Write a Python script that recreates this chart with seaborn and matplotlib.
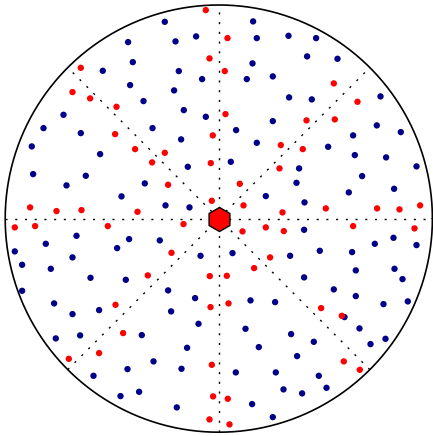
import numpy as np
import pandas as pd
import matplotlib
matplotlib.use("Agg")
import matplotlib.pyplot as plt
import seaborn as sns

# Projected pole positions (units: circle radius = 213.6)
blue_x = [-54, -90.7, -43.3, -22.7, -86, -116, -40, -16.7, -88.7, -44.7, -75.3, -35, -13,
          -155.3, -175.3, -66.3, -138, -187, -37.7, -118.7, -31, -185.7, -133, -152.3, -74,
          -97.3, -53.3, -29.3,
          34.3, 38, 69.7, 97.3, 33.7, 88.3, 118.7, 28, 54, 70.3, 93, 161.7, 54, 158, 17.3,
          182, 134.3, 38, 109.3, 136, 167.3, 12, 80.3, 197.7, 143.3, 77.7, 175.3, 47, 130, 85.7,
          -142.3, -173, -89.7, -59, -101.7, -204, -18.3, -146.3, -196.7, -168, -128.3, -93,
          -196.7, -50.7, -23.7, -164.7, -119.7, -47.7, -146.3, -20.3, -77, -138.7, -163,
          -31.7, -65.3, -91.3, -37.3, -125.3, -98.3, -79.7, -42,
          85.3, 174.7, 156, 197.7, 13.7, 71.3, 101, 133.3, 137, 175.7, 183.7, 85.3, 115, 137,
          31.7, 56.3, 164.7, 189, 125.7, 140.7, 26.7, 72.3, 95, 166.7, 151.7, 40, 78.3, 17,
          57, 100, 107.7, 64.7, 83.3, 33.3, 54]
blue_y = [196.8, 176.5, 177.2, 182.2, 156.5, 147.8, 147.5, 139.5, 133.5, 128.2, 117.5, 108.5,
          101.8, 103.8, 90.5, 90.5, 85.5, 72.2, 79.2, 64.5, 51.8, 44.5, 42.8, 33.2, 35.2, 22.2,
          13.2, 11.2,
          197.2, 180.5, 182.8, 180.5, 155.2, 162.2, 159.8, 139.5, 142.2, 121.2, 119.2, 122.2,
          97.5, 93.2, 88.5, 86.5, 83.2, 75.8, 71.8, 63.5, 61.2, 56.8, 50.2, 52.2, 42.5, 35.8,
          29.8, 22.5, 26.2, 16.2,
          -17.2, -25.2, -20.5, -21.8, -29.5, -32.8, -37.2, -38.8, -46.2, -50.2, -59.2, -61.2,
          -72.2, -71.8, -79.5, -84.8, -91.5, -92.8, -95.5, -105.2, -116.5, -116.8, -119.8,
          -129.2, -142.8, -150.5, -150.2, -157.2, -177.5, -173.2, -188.8,
          -11.2, -19.2, -25.2, -26.5, -34.5, -37.2, -32.2, -33.5, -51.8, -50.2, -60.5, -58.8,
          -70.8, -77.5, -81.8, -83.5, -85.5, -82.8, -98.5, -109.8, -110.2, -115.5, -123.2,
          -120.2, -125.5, -128.5, -137.5, -153.8, -153.8, -157.2, -169.2, -170.8, -174.8,
          -185.5, -198.5]

red_x = [-13, -9.3, -138, -146.3, -128.7, -102.3, -103.7, -6, -83.7, -54, -66.7, -8, -50.7,
         -7, -188.7, -162.3, -137.3, -81.3,
         8.7, 6, 115, 138.7, 6.7, 87.7, 116, 62, 84, 60.7, 21, 24.7, 63.7, 107, 158.3, 180.7,
         201.3,
         -204, -183.7, -111, -35.3, -47.3, -71, -9, -103.3, -8.3, -95.7, -150, -119.7, -7,
         -5.7, -9.3,
         23.7, 47, 65, 134.3, 195.7, 51.3, 35.3, 8, 9.7, 102.3, 123, 125, 141, 9, 10.7]
red_y = [208.5, 160.2, 150.8, 126.5, 120.2, 111.8, 84.5, 83.2, 69.5, 65.8, 56.2, 55.5, 33.8,
         17.8, 11.2, 7.5, 8.5, 6.8,
         180.5, 147.5, 135.2, 116.8, 104.5, 98.2, 99.2, 73.5, 69.5, 50.2, 34.8, 13.2, 6.2, 10.2,
         10.2, 9.2, 13.2,
         -8.8, -7.5, -7.5, -5.5, -34.2, -56.8, -57.5, -86.2, -88.5, -114.5, -140.2, -134.5,
         -146.2, -177.8, -200.8,
         -12.8, -8.8, -12.5, -7.5, -9.8, -38.8, -49.5, -57.2, -84.8, -89.5, -97.2, -142.8,
         -151.2, -180.2, -205.8]

center_x = [0.5]
center_y = [0.0]
radius = 213.6
line_angles_deg = [0, 45, 90, 135]

sns.set_style("white")

df = pd.DataFrame({
    "x": blue_x + red_x,
    "y": blue_y + red_y,
    "kind": ["blue"] * len(blue_x) + ["red"] * len(red_x),
})

fig = plt.figure(figsize=(4.33, 4.36), dpi=100)
ax = fig.add_axes([0, 0, 1, 1])

# reference lines
for a in line_angles_deg:
    t = np.deg2rad(a)
    ax.plot([-radius * np.cos(t), radius * np.cos(t)],
            [-radius * np.sin(t), radius * np.sin(t)],
            color="black", lw=1.0, linestyle=(0, (1.5, 5.5)), zorder=1)

# bounding circle
th = np.linspace(0, 2 * np.pi, 721)
ax.plot(radius * np.cos(th), radius * np.sin(th), color="black", lw=1.2, zorder=1)

sns.scatterplot(data=df, x="x", y="y", hue="kind",
                palette={"blue": "#000088", "red": "#ff0000"},
                s=21, linewidth=0, legend=False, ax=ax, zorder=3)

sns.scatterplot(x=center_x, y=center_y, marker="h", s=300, color="#ff0000",
                edgecolor="black", linewidth=1.0, legend=False, ax=ax, zorder=4)

ax.set_xlim(-218.8, 433 - 218.8)
ax.set_ylim(218.6 - 436, 218.6)
ax.set_aspect("equal")
ax.axis("off")

fig.savefig("out.png", dpi=100)
